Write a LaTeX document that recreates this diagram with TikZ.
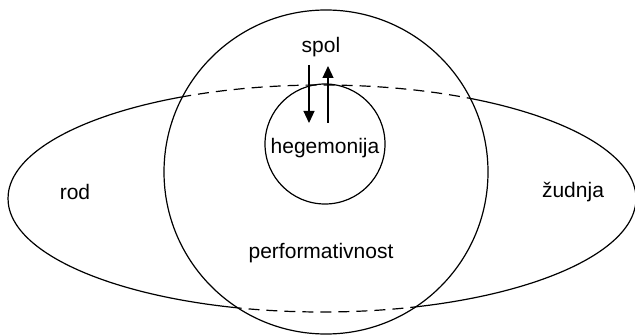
\documentclass[tikz,border=0pt]{standalone}
\usepackage{fontspec}
\setmainfont{Liberation Sans}
\usetikzlibrary{arrows.meta}

\tikzset{
  lbl/.style={font=\fontsize{10.5pt}{12pt}\selectfont, inner sep=0pt},
  flow/.style={-{Triangle[length=6pt,width=5.5pt]}},
}

\begin{document}
\begin{tikzpicture}[x=0.5pt,y=-0.5pt,line width=0.6pt]
  \useasboundingbox (0,0) rectangle (635,336);
  \coordinate (perfc) at (326,172);
  \coordinate (rodc) at (322,198.5);
  % ellipse: dashed inside the big circle, solid outside
  \begin{scope}
    \clip (perfc) circle (81pt);
    \draw[dash pattern=on 5.5pt off 3.5pt] (rodc) ellipse (157pt and 56.75pt);
  \end{scope}
  \begin{scope}[even odd rule]
    \clip (-10,-10) rectangle (645,346) (perfc) circle (81pt);
    \draw (rodc) ellipse (157pt and 56.75pt);
  \end{scope}
  \draw (perfc) circle (81pt);
  \draw (325,144) circle (30pt);

  \node[lbl] (spol) at (321,47) {spol};
  \node[lbl] (heg) at (325,148) {hegemonija};
  \node[lbl] (rod) at (75,192) {rod};
  \node[lbl] (zud) at (573,192) {žudnja};
  \node[lbl] (perf) at (321,253) {performativnost};

  \coordinate (dtop) at (309,65);
  \coordinate (dbot) at (309,123);
  \coordinate (utop) at (328,66);
  \coordinate (ubot) at (328,123);
  \draw[flow] (dtop) -- (dbot);
  \draw[flow] (ubot) -- (utop);
\end{tikzpicture}
\end{document}
